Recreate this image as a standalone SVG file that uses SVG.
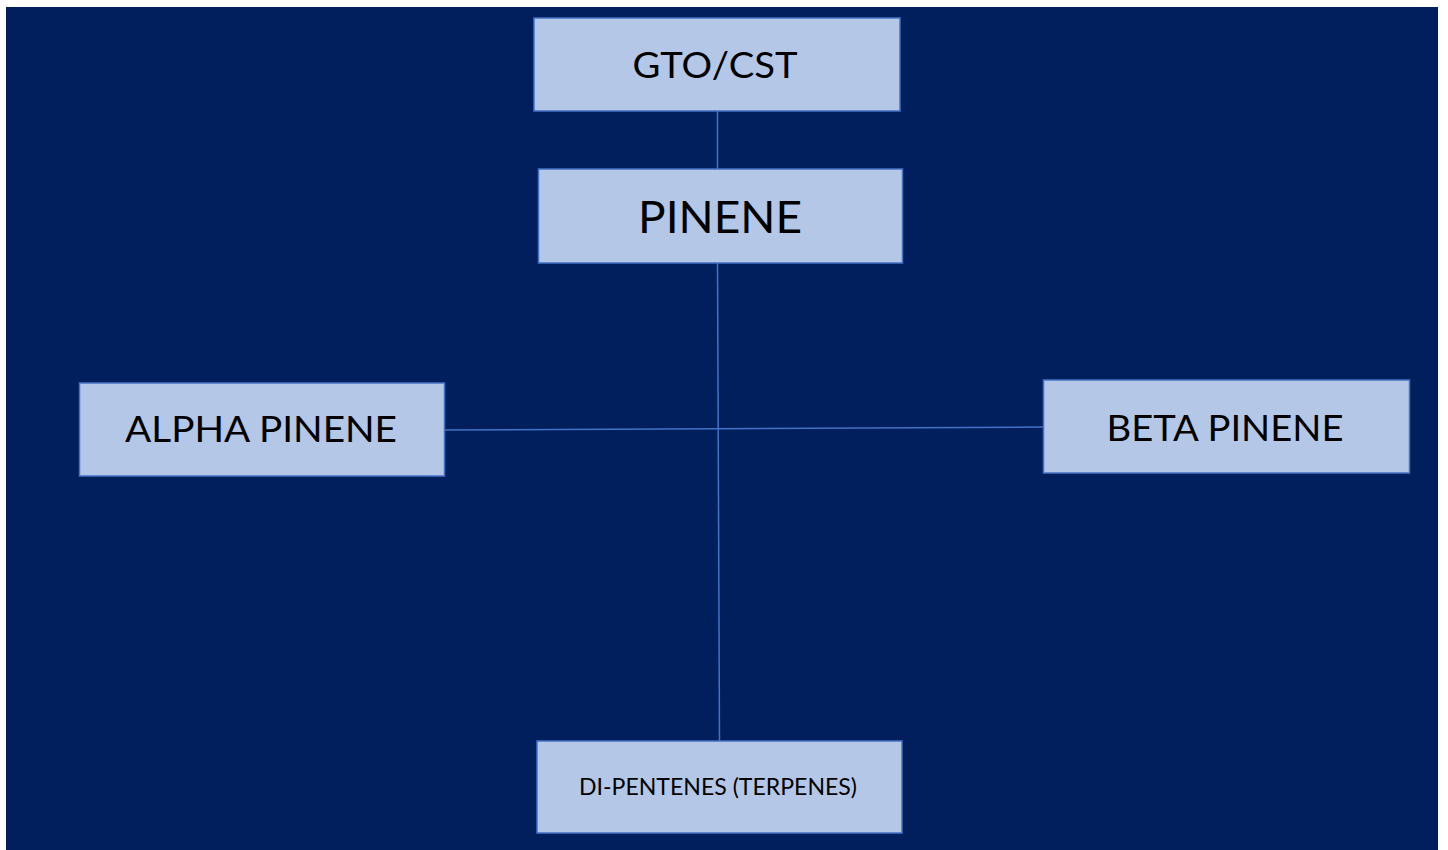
<svg xmlns="http://www.w3.org/2000/svg" width="1448" height="850" viewBox="0 0 1448 850">
<style>
.box{fill:#B4C7E7;stroke:#4472C4;stroke-width:1.5}
.lbl{font-family:Lato,"Liberation Sans",sans-serif;fill:#000;text-anchor:middle}
.con{stroke:#4472C4;stroke-width:1.5;fill:none}
</style>
<rect x="0" y="0" width="1448" height="850" fill="#ffffff"/>
<rect x="6" y="7" width="1432" height="843" fill="#001F5C"/>
<g id="connectors">
<line class="con" x1="717.5" y1="111" x2="717.5" y2="169"/>
<line class="con" x1="717.5" y1="263" x2="719.5" y2="741"/>
<line class="con" x1="445" y1="430" x2="1043" y2="427"/>
</g>
<g id="gto">
<rect class="box" x="534" y="18" width="366" height="93"/>
<text class="lbl" x="715" y="78" font-size="36" textLength="165" lengthAdjust="spacingAndGlyphs">GTO/CST</text>
</g>
<g id="pinene">
<rect class="box" x="538.5" y="169" width="364" height="94"/>
<text class="lbl" x="720" y="233" font-size="44" textLength="164" lengthAdjust="spacingAndGlyphs">PINENE</text>
</g>
<g id="alpha">
<rect class="box" x="79.5" y="383" width="365" height="93"/>
<text class="lbl" x="261" y="442" font-size="36" textLength="272" lengthAdjust="spacingAndGlyphs">ALPHA PINENE</text>
</g>
<g id="beta">
<rect class="box" x="1043.5" y="380" width="366" height="93"/>
<text class="lbl" x="1225" y="441" font-size="36" textLength="237" lengthAdjust="spacingAndGlyphs">BETA PINENE</text>
</g>
<g id="dipentenes">
<rect class="box" x="537" y="741" width="365" height="92"/>
<text class="lbl" x="718" y="795" font-size="24" textLength="278" lengthAdjust="spacingAndGlyphs">DI-PENTENES (TERPENES)</text>
</g>
</svg>
